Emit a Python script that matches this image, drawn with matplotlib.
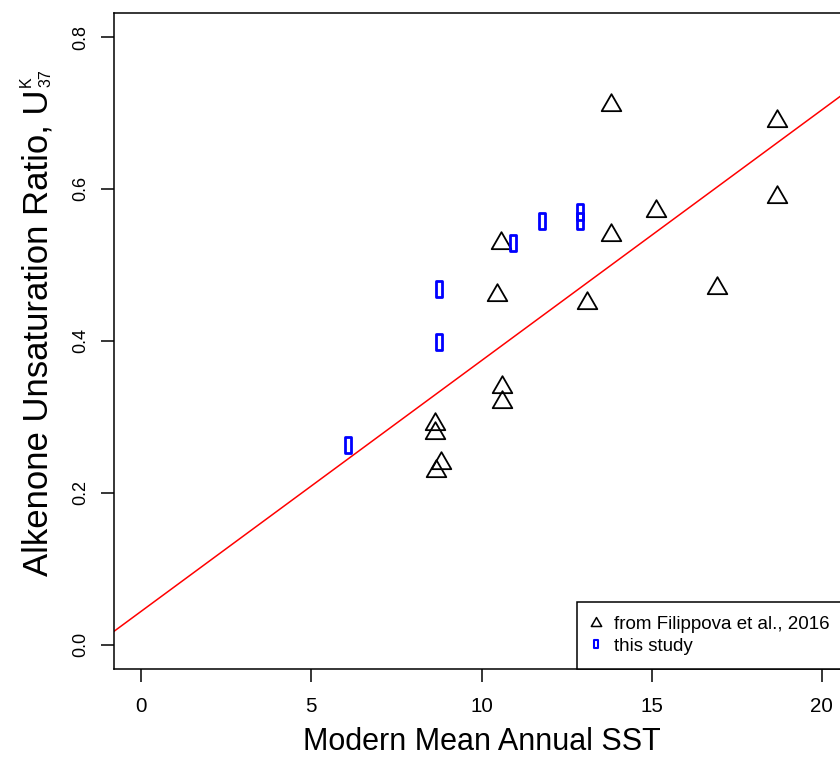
import numpy as np
import matplotlib
matplotlib.use("Agg")
import matplotlib.pyplot as plt
from matplotlib.path import Path
from matplotlib.lines import Line2D

plt.rcParams['font.family'] = ['Liberation Sans', 'DejaVu Sans']

# Filippova et al., 2016 (triangles)
filippova_sst = [13.81, 18.68, 18.68, 15.13, 13.81, 10.58, 10.46, 13.11, 16.91,
                 10.60, 10.60, 8.62, 8.62, 8.82, 8.65]
filippova_uk = [0.710, 0.690, 0.590, 0.5705, 0.540, 0.529, 0.460, 0.450, 0.470,
                0.3395, 0.319, 0.290, 0.279, 0.239, 0.229]

# this study (blue rectangles)
study_sst = [6.08, 8.755, 8.755, 10.94, 11.78, 12.88, 12.88]
study_uk = [0.263, 0.468, 0.398, 0.529, 0.558, 0.569, 0.558]

# calibration line UK37 = a * T + b
calib_slope = 0.033
calib_intercept = 0.044

xticks = [0, 5, 10, 15, 20]
yticks = [0.0, 0.2, 0.4, 0.6, 0.8]

# open triangle centred on its centroid (like R pch=2)
tri = Path([(0, 1), (0.866, -0.5), (-0.866, -0.5), (0, 1)],
           [Path.MOVETO, Path.LINETO, Path.LINETO, Path.CLOSEPOLY])
# tall narrow rectangle
rect = Path([(-0.194, -0.5), (0.194, -0.5), (0.194, 0.5), (-0.194, 0.5), (-0.194, -0.5)],
            [Path.MOVETO, Path.LINETO, Path.LINETO, Path.LINETO, Path.CLOSEPOLY])

W, H = 840, 757
fig = plt.figure(figsize=(W / 100, H / 100), dpi=100)
ax_l, ax_r, ax_t, ax_b = 114, 849, 12.7, 669
ax = fig.add_axes([ax_l / W, (H - ax_b) / H, (ax_r - ax_l) / W, (ax_b - ax_t) / H])

ax.axline((0, calib_intercept), slope=calib_slope, color='red', lw=1.1, zorder=1)
ax.plot(filippova_sst, filippova_uk, linestyle='none', marker=tri, ms=16.3,
        mfc='none', mec='black', mew=1.3, zorder=3)
ax.plot(study_sst, study_uk, linestyle='none', marker=rect, ms=11.7,
        mfc='none', mec='blue', mew=2.0, zorder=4)

ax.set_xlim(-0.8, 20.8)
ax.set_ylim(-0.032, 0.832)
ax.set_xticks(xticks)
ax.set_xticklabels([str(v) for v in xticks])
ax.set_yticks(yticks)
ax.set_yticklabels(["%.1f" % v for v in yticks], rotation=90, va='center')
ax.tick_params(axis='both', direction='out', length=9.5, width=1.1, color='black')
ax.tick_params(axis='x', labelsize=14.8, pad=11)
ax.tick_params(axis='y', labelsize=13, pad=8.6)
for s in ax.spines.values():
    s.set_linewidth(1.1)

fig.text(481.5 / W, (H - 750) / H, "Modern Mean Annual SST", fontsize=22,
         ha='center', va='baseline')

# y label: main text plus stacked K / 37 scripts
fig.text(47 / W, (H - 576) / H, "Alkenone Unsaturation Ratio, U", fontsize=25,
         rotation=90, rotation_mode='anchor', ha='left', va='baseline')
fig.text(31 / W, (H - 87) / H, "K", fontsize=11.5,
         rotation=90, rotation_mode='anchor', ha='left', va='baseline')
fig.text(50 / W, (H - 87) / H, "37", fontsize=11.5,
         rotation=90, rotation_mode='anchor', ha='left', va='baseline')

handles = [
    Line2D([], [], linestyle='none', marker=tri, ms=8.6, mfc='none', mec='black', mew=1.1),
    Line2D([], [], linestyle='none', marker=rect, ms=5.8, mfc='none', mec='blue', mew=1.5),
]
leg = ax.legend(handles, ["from Filippova et al., 2016", "this study"],
                loc='lower left', bbox_to_anchor=((577 - ax_l) / (ax_r - ax_l), 0.0),
                borderaxespad=0, fontsize=13.5, fancybox=False, framealpha=1,
                edgecolor='black', borderpad=0.75, labelspacing=0.25,
                handlelength=0.5, handletextpad=0.7)
leg.get_frame().set_linewidth(1.1)

fig.savefig("out.png", dpi=100)
